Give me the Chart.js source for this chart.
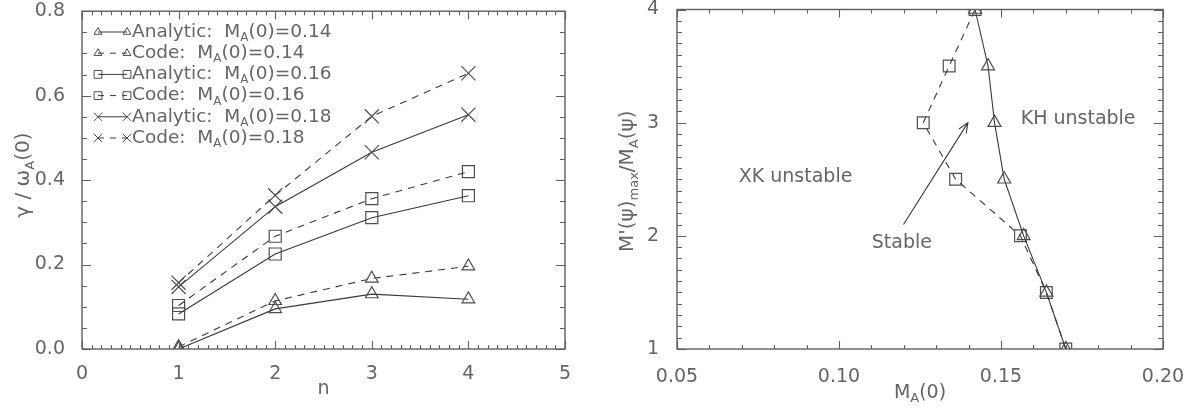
<!DOCTYPE html>
<html>
<head>
<meta charset="utf-8">
<script src="https://cdn.jsdelivr.net/npm/chart.js@4.4.0/dist/chart.umd.min.js"></script>
<style>
  html, body { margin: 0; padding: 0; background: #fff; }
  #wrap { position: relative; width: 1195px; height: 412px; }
  #leftBox { position: absolute; left: 0; top: 0; width: 600px; height: 412px; }
  #rightBox { position: absolute; left: 600px; top: 0; width: 595px; height: 412px; }
</style>
</head>
<body>
<div id="wrap">
  <div id="leftBox"><canvas id="growth" width="600" height="412"></canvas></div>
  <div id="rightBox"><canvas id="stability" width="595" height="412"></canvas></div>
</div>
<script>
// Growth rate gamma/omega_A(0) against mode number n
const modeNumbers = [1, 2, 3, 4];
const analytic014 = [0.0, 0.095, 0.130, 0.118];
const code014 = [0.005, 0.114, 0.167, 0.196];
const analytic016 = [0.083, 0.225, 0.311, 0.363];
const code016 = [0.103, 0.267, 0.356, 0.420];
const analytic018 = [0.147, 0.337, 0.466, 0.555];
const code018 = [0.157, 0.364, 0.551, 0.653];
const seriesKind = ['Analytic', 'Code', 'Analytic', 'Code', 'Analytic', 'Code'];
const seriesMa = ['0.14', '0.14', '0.16', '0.16', '0.18', '0.18'];
const nTicks = [0, 1, 2, 3, 4, 5];
const gammaTicks = [0.0, 0.2, 0.4, 0.6, 0.8];

// Marginal stability boundary: M'(psi)_max/M_A(psi) against M_A(0)
const ratioValues = [1.0, 1.5, 2.0, 2.5, 3.0, 3.5, 4.0];
const analyticMa = [0.170, 0.164, 0.157, 0.151, 0.148, 0.146, 0.142];
const codeMa = [0.170, 0.164, 0.156, 0.136, 0.126, 0.134, 0.142];
const maTicks = [0.05, 0.10, 0.15, 0.20];
const ratioTicks = [1, 2, 3, 4];

const lineInk = '#3a3a3a';
const markInk = '#4e4e4e';
const textInk = '#656565';
const frameInk = '#5e5e5e';
const family = 'DejaVu Sans';
const tickFont = { family: family, size: 19, lineHeight: 1 };

// text with subscripts: parts are [string, isSub]
function drawRich(ctx, parts, x, y, size, align) {
  const fonts = parts.map(p => (p[1] ? Math.round(size * 0.66) : size) + 'px "' + family + '"');
  const widths = parts.map((p, i) => { ctx.font = fonts[i]; return ctx.measureText(p[0]).width; });
  const total = widths.reduce((a, b) => a + b, 0);
  let cx = align === 'left' ? x : x - total / 2;
  ctx.textAlign = 'left';
  ctx.textBaseline = 'middle';
  parts.forEach((p, i) => {
    ctx.font = fonts[i];
    ctx.fillText(p[0], cx, y + (p[1] ? size * 0.32 : 0));
    cx += widths[i];
  });
}

function drawMarker(ctx, style, x, y, r) {
  ctx.beginPath();
  if (style === 'triangle') {
    for (let k = 0; k < 3; k++) {
      const a = -Math.PI / 2 + k * 2 * Math.PI / 3;
      const px = x + Math.cos(a) * r, py = y + Math.sin(a) * r;
      if (k === 0) ctx.moveTo(px, py); else ctx.lineTo(px, py);
    }
    ctx.closePath();
  } else if (style === 'rect') {
    const s = r * Math.SQRT1_2;
    ctx.rect(x - s, y - s, 2 * s, 2 * s);
  } else {
    const s = r * Math.SQRT1_2;
    ctx.moveTo(x - s, y - s); ctx.lineTo(x + s, y + s);
    ctx.moveTo(x - s, y + s); ctx.lineTo(x + s, y - s);
  }
  ctx.stroke();
}

// box round the plot with inward major/minor ticks on all four sides
const framePlugin = {
  id: 'frame',
  afterDatasetsDraw(chart, args, opts) {
    const { ctx, chartArea: a, scales: { x, y } } = chart;
    ctx.save();
    ctx.strokeStyle = frameInk;
    ctx.lineWidth = 1.4;
    ctx.strokeRect(a.left, a.top, a.right - a.left, a.bottom - a.top);
    ctx.lineWidth = 1.1;
    ctx.beginPath();
    const nx = Math.round((x.max - x.min) / opts.xMinor);
    for (let i = 0; i <= nx; i++) {
      const px = Math.round(x.getPixelForValue(x.min + i * opts.xMinor)) + 0.5;
      const len = i % opts.xEvery === 0 ? 8 : 4;
      ctx.moveTo(px, a.bottom); ctx.lineTo(px, a.bottom - len);
      ctx.moveTo(px, a.top); ctx.lineTo(px, a.top + len);
    }
    const ny = Math.round((y.max - y.min) / opts.yMinor);
    for (let i = 0; i <= ny; i++) {
      const py = Math.round(y.getPixelForValue(y.min + i * opts.yMinor)) + 0.5;
      const len = i % opts.yEvery === 0 ? 9 : 5;
      ctx.moveTo(a.left, py); ctx.lineTo(a.left + len, py);
      ctx.moveTo(a.right, py); ctx.lineTo(a.right - len, py);
    }
    ctx.stroke();
    ctx.restore();
  }
};

// axis titles (they carry subscripts, so drawn by hand)
const titlePlugin = {
  id: 'titles',
  afterDraw(chart, args, opts) {
    const { ctx, chartArea: a } = chart;
    ctx.save();
    ctx.fillStyle = textInk;
    drawRich(ctx, opts.x, (a.left + a.right) / 2, opts.xAt, 19, 'center');
    ctx.translate(opts.yAt, (a.top + a.bottom) / 2 + (opts.yShift || 0));
    ctx.rotate(-Math.PI / 2);
    drawRich(ctx, opts.y, 0, 0, 20, 'center');
    ctx.restore();
  }
};

const legendPlugin = {
  id: 'seriesKey',
  afterDraw(chart) {
    const ctx = chart.ctx;
    ctx.save();
    chart.data.datasets.forEach((ds, i) => {
      const yRow = 32 + i * 21.2;
      ctx.strokeStyle = markInk;
      ctx.lineWidth = 1;
      const r = ds.pointStyle === 'triangle' ? 4.5 : ds.pointStyle === 'rect' ? 5.5 : 6;
      drawMarker(ctx, ds.pointStyle, 98, yRow, r);
      drawMarker(ctx, ds.pointStyle, 127, yRow, r);
      ctx.strokeStyle = lineInk;
      ctx.setLineDash(ds.borderDash.length ? [6, 6] : []);
      ctx.beginPath();
      ctx.moveTo(98, yRow); ctx.lineTo(127, yRow);
      ctx.stroke();
      ctx.setLineDash([]);
      ctx.fillStyle = textInk;
      drawRich(ctx, [[seriesKind[i] + ':  M', false], ['A', true], ['(0)=' + seriesMa[i], false]], 132, yRow, 18.5, 'left');
    });
    ctx.restore();
  }
};

const regionNotes = [
  { text: 'XK unstable', ma: 0.0866, ratio: 2.52 },
  { text: 'KH unstable', ma: 0.1738, ratio: 3.03 },
  { text: 'Stable', ma: 0.1194, ratio: 1.94 }
];
const stableArrow = { from: [0.1199, 2.10], to: [0.1398, 3.0] };

const notesPlugin = {
  id: 'notes',
  afterDraw(chart) {
    const { ctx, scales: { x, y } } = chart;
    ctx.save();
    ctx.fillStyle = textInk;
    ctx.font = '19px "' + family + '"';
    ctx.textAlign = 'center';
    ctx.textBaseline = 'middle';
    regionNotes.forEach(n => ctx.fillText(n.text, x.getPixelForValue(n.ma), y.getPixelForValue(n.ratio)));
    const x0 = x.getPixelForValue(stableArrow.from[0]), y0 = y.getPixelForValue(stableArrow.from[1]);
    const x1 = x.getPixelForValue(stableArrow.to[0]), y1 = y.getPixelForValue(stableArrow.to[1]);
    const ang = Math.atan2(y1 - y0, x1 - x0);
    ctx.strokeStyle = lineInk;
    ctx.lineWidth = 1.1;
    ctx.beginPath();
    ctx.moveTo(x0, y0); ctx.lineTo(x1, y1);
    ctx.moveTo(x1 - 11 * Math.cos(ang - 0.4), y1 - 11 * Math.sin(ang - 0.4));
    ctx.lineTo(x1, y1);
    ctx.lineTo(x1 - 11 * Math.cos(ang + 0.4), y1 - 11 * Math.sin(ang + 0.4));
    ctx.stroke();
    ctx.restore();
  }
};

function lineSet(points, marker, radius, dashed) {
  return {
    data: points,
    borderColor: lineInk,
    borderWidth: 1.1,
    borderDash: dashed ? [7, 6] : [],
    pointStyle: marker,
    pointRadius: radius,
    pointBorderColor: markInk,
    pointBackgroundColor: 'rgba(0,0,0,0)',
    pointBorderWidth: 1.2,
    tension: 0
  };
}

// tick labels come from the arrays above; edge padding is left to layout.padding
function axis(min, max, tickValues, fmt, padding, fit) {
  return {
    type: 'linear', min: min, max: max,
    grid: { display: false }, border: { display: false },
    afterBuildTicks: s => { s.ticks = tickValues.map(v => ({ value: v })); },
    afterFit: s => {
      fit(s);
      s.paddingTop = 0; s.paddingBottom = 0; s.paddingLeft = 0; s.paddingRight = 0;
    },
    ticks: { font: tickFont, color: textInk, padding: padding, autoSkip: false, maxRotation: 0, callback: fmt }
  };
}

const growthSets = [analytic014, code014, analytic016, code016, analytic018, code018].map((vals, i) => {
  const marker = ['triangle', 'rect', 'crossRot'][Math.floor(i / 2)];
  const radius = [7.3, 8.5, 10][Math.floor(i / 2)];
  return lineSet(modeNumbers.map((n, k) => ({ x: n, y: vals[k] })), marker, radius, i % 2 === 1);
});

new Chart(document.getElementById('growth'), {
  type: 'line',
  data: { datasets: growthSets },
  options: {
    responsive: false,
    animation: false,
    layout: { padding: { top: 10, right: 35, left: 0, bottom: 0 } },
    plugins: {
      legend: { display: false },
      tooltip: { enabled: false },
      frame: { xMinor: 0.1, xEvery: 10, yMinor: 0.05, yEvery: 4 },
      titles: {
        x: [['n', false]], xAt: 389,
        y: [['γ / ω', false], ['A', true], ['(0)', false]], yAt: 24, yShift: -5
      }
    },
    scales: {
      x: axis(0, 5, nTicks, v => String(v), 8, s => { s.height = 63; }),
      y: axis(0, 0.8, gammaTicks, v => v.toFixed(1), 9, s => { s.width = 82; })
    }
  },
  plugins: [framePlugin, titlePlugin, legendPlugin]
});

new Chart(document.getElementById('stability'), {
  type: 'line',
  data: {
    datasets: [
      lineSet(analyticMa.map((m, k) => ({ x: m, y: ratioValues[k] })), 'triangle', 7.5, false),
      lineSet(codeMa.map((m, k) => ({ x: m, y: ratioValues[k] })), 'rect', 8.3, true)
    ]
  },
  options: {
    responsive: false,
    animation: false,
    layout: { padding: { top: 7, right: 32, left: 0, bottom: 0 } },
    plugins: {
      legend: { display: false },
      tooltip: { enabled: false },
      frame: { xMinor: 0.01, xEvery: 5, yMinor: 0.1, yEvery: 10 },
      titles: {
        x: [['M', false], ['A', true], ['(0)', false]], xAt: 393,
        y: [["M'(ψ)", false], ['max', true], ['/M', false], ['A', true], ['(ψ)', false]], yAt: 28, yShift: 2
      }
    },
    scales: {
      x: axis(0.05, 0.20, maTicks, v => v.toFixed(2), 11, s => { s.height = 63; }),
      y: axis(1, 4, ratioTicks, v => String(v), 10, s => { s.width = 77; })
    }
  },
  plugins: [framePlugin, titlePlugin, notesPlugin]
});
</script>
</body>
</html>
